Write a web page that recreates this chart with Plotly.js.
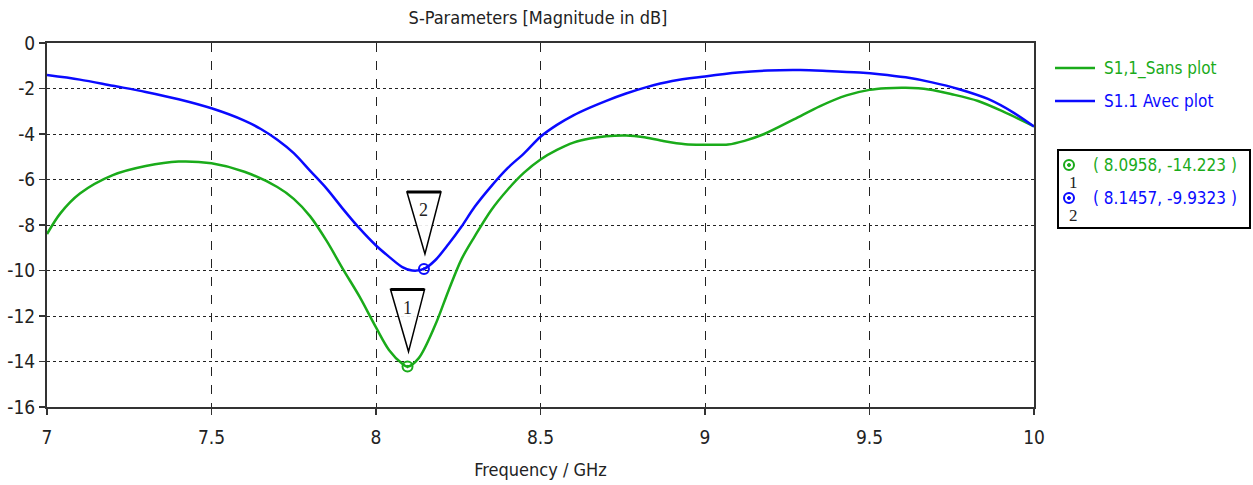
<!DOCTYPE html>
<html>
<head>
<meta charset="utf-8">
<script src="https://cdn.plot.ly/plotly-3.0.1.min.js"></script>
<style>html,body{margin:0;padding:0;background:#fff;}#chart{width:1253px;height:485px;}</style>
</head>
<body>
<div id="chart"></div>
<script>
// Data
const freqSans = [7.0,7.04,7.1,7.2,7.3,7.4,7.5,7.6,7.7,7.75,7.8,7.85,7.9,7.95,8.0,8.04,8.08,8.0958,8.13,8.18,8.22,8.26,8.3,8.35,8.4,8.45,8.5,8.55,8.6,8.65,8.7,8.76,8.81,8.87,8.94,9.0,9.07,9.12,9.18,9.27,9.35,9.43,9.5,9.55,9.61,9.68,9.75,9.83,9.91,10.0];
const s11Sans = [-8.4,-7.5,-6.62,-5.81,-5.41,-5.21,-5.29,-5.66,-6.33,-6.85,-7.62,-8.7,-9.95,-11.15,-12.5,-13.5,-14.1,-14.223,-13.85,-12.4,-10.9,-9.5,-8.5,-7.35,-6.45,-5.7,-5.12,-4.7,-4.38,-4.2,-4.1,-4.07,-4.13,-4.3,-4.45,-4.47,-4.46,-4.3,-4.0,-3.36,-2.77,-2.3,-2.06,-1.99,-1.97,-2.04,-2.25,-2.55,-3.04,-3.66];
const freqAvec = [7.0,7.1,7.2,7.3,7.4,7.5,7.6,7.65,7.7,7.75,7.8,7.85,7.9,7.95,8.0,8.04,8.08,8.11,8.1457,8.18,8.22,8.26,8.3,8.35,8.4,8.45,8.5,8.55,8.6,8.65,8.7,8.76,8.82,8.9,9.0,9.1,9.19,9.29,9.37,9.47,9.53,9.61,9.69,9.77,9.86,9.94,10.0];
const s11Avec = [-1.41,-1.61,-1.88,-2.15,-2.47,-2.87,-3.41,-3.78,-4.25,-4.84,-5.62,-6.4,-7.3,-8.15,-8.9,-9.4,-9.85,-10.0,-9.9323,-9.55,-8.85,-8.07,-7.2,-6.3,-5.5,-4.85,-4.12,-3.6,-3.18,-2.84,-2.54,-2.22,-1.95,-1.67,-1.47,-1.3,-1.21,-1.19,-1.23,-1.3,-1.37,-1.51,-1.73,-2.02,-2.46,-3.08,-3.67];
const seriesNames = ["S1,1_Sans plot", "S1.1 Avec plot"];
const markerIds = ["1", "2"];
const markerX = [8.0958, 8.1457];
const markerY = [-14.223, -9.9323];
const xTicks = [7, 7.5, 8, 8.5, 9, 9.5, 10];
const yTicks = [0, -2, -4, -6, -8, -10, -12, -14, -16];

const GREEN = "#1aab1a", BLUE = "#0a0aff";
const colors = [GREEN, BLUE];
const FONT = "'Liberation Sans Narrow', 'DejaVu Sans Condensed', Arial, sans-serif";
const L = 47, R = 1034, T = 43, B = 407;
const px = v => (v - L) / (R - L);
const py = v => (B - v) / (B - T);

const traces = [
  {x: freqSans, y: s11Sans, mode: "lines", line: {color: GREEN, width: 2.5, shape: "spline", smoothing: 0.9}, showlegend: false, hoverinfo: "skip"},
  {x: freqAvec, y: s11Avec, mode: "lines", line: {color: BLUE, width: 2.5, shape: "spline", smoothing: 0.9}, showlegend: false, hoverinfo: "skip"}
];
markerIds.forEach((id, i) => {
  traces.push({x: [markerX[i]], y: [markerY[i]], mode: "markers",
    marker: {symbol: "circle-open-dot", size: 10, color: colors[i], line: {width: 2, color: colors[i]}},
    showlegend: false, hoverinfo: "skip"});
});

const shapes = [];
const annotations = [];
// Triangle callouts above each marker
markerIds.forEach((id, i) => {
  shapes.push({type: "path", xref: "x", yref: "y", xsizemode: "pixel", ysizemode: "pixel",
    xanchor: markerX[i], yanchor: markerY[i],
    path: "M -17 77 L 17 77 L 1 15 Z", line: {color: "#000", width: 1.5}, fillcolor: "rgba(255,255,255,0.9)"});
  shapes.push({type: "line", xref: "x", yref: "y", xsizemode: "pixel", ysizemode: "pixel",
    xanchor: markerX[i], yanchor: markerY[i], x0: -17, x1: 17, y0: 77, y1: 77,
    line: {color: "#000", width: 3}});
  annotations.push({x: markerX[i], y: markerY[i], xref: "x", yref: "y", text: id, showarrow: false,
    yshift: 59, font: {family: "'Liberation Serif', serif", size: 18, color: "#222"}});
});

// Legend (top right)
const legY = [68, 101];
seriesNames.forEach((n, i) => {
  shapes.push({type: "line", xref: "paper", yref: "paper", x0: px(1055), x1: px(1095), y0: py(legY[i]), y1: py(legY[i]),
    line: {color: colors[i], width: 2.5}});
  annotations.push({xref: "paper", yref: "paper", x: px(1102), y: py(legY[i]), xanchor: "left", yanchor: "middle",
    text: n, showarrow: false, font: {family: FONT, size: 17, color: colors[i]}});
});

// Marker value box
shapes.push({type: "rect", xref: "paper", yref: "paper", x0: px(1058), x1: px(1250),
  y0: py(228), y1: py(150), line: {color: "#000", width: 2}, fillcolor: "rgba(0,0,0,0)"});
const boxY = [165, 198];
markerIds.forEach((id, i) => {
  shapes.push({type: "circle", xref: "paper", yref: "paper", xsizemode: "pixel", ysizemode: "pixel",
    xanchor: px(1069), yanchor: py(boxY[i]), x0: -5, x1: 5, y0: -5, y1: 5,
    line: {color: colors[i], width: 2}, fillcolor: "rgba(0,0,0,0)"});
  shapes.push({type: "circle", xref: "paper", yref: "paper", xsizemode: "pixel", ysizemode: "pixel",
    xanchor: px(1069), yanchor: py(boxY[i]), x0: -1.5, x1: 1.5, y0: -1.5, y1: 1.5,
    line: {color: colors[i], width: 1}, fillcolor: colors[i]});
  annotations.push({xref: "paper", yref: "paper", x: px(1073), y: py(boxY[i] + 17), xanchor: "center", yanchor: "middle",
    text: id, showarrow: false, font: {family: "'Liberation Serif', serif", size: 17, color: "#222"}});
  annotations.push({xref: "paper", yref: "paper", x: px(1091), y: py(boxY[i]), xanchor: "left", yanchor: "middle",
    text: "( " + markerX[i] + ", " + markerY[i] + " )", showarrow: false, font: {family: FONT, size: 17, color: colors[i]}});
});

const layout = {
  width: 1253, height: 485,
  margin: {l: L, r: 1253 - R, t: T, b: 485 - B},
  paper_bgcolor: "#fff", plot_bgcolor: "#fff",
  font: {family: FONT, size: 17, color: "#222"},
  title: {text: "S-Parameters [Magnitude in dB]", x: 538/1253, xanchor: "center", y: 1 - 18/485, yanchor: "middle",
    font: {family: FONT, size: 18, color: "#222"}},
  xaxis: {range: [7, 10], tickvals: xTicks, ticktext: xTicks.map(String), showgrid: true,
    gridcolor: "#222", gridwidth: 1, griddash: "dash", zeroline: false,
    showline: true, mirror: true, linecolor: "#333", linewidth: 2,
    ticks: "outside", ticklen: 6, tickcolor: "#333", tickwidth: 1.5, ticklabelstandoff: 6,
    tickfont: {family: FONT, size: 19, color: "#222"},
    title: {text: "Frequency / GHz", font: {family: FONT, size: 18, color: "#222"}, standoff: 17}},
  yaxis: {range: [-16, 0], tickvals: yTicks, ticktext: yTicks.map(String), showgrid: true,
    gridcolor: "#222", gridwidth: 1, griddash: "dot", zeroline: false,
    showline: true, mirror: true, linecolor: "#333", linewidth: 2,
    ticks: "outside", ticklen: 6, tickcolor: "#333", tickwidth: 1.5,
    tickfont: {family: FONT, size: 19, color: "#222"}},
  shapes: shapes, annotations: annotations, showlegend: false
};
Plotly.newPlot("chart", traces, layout, {staticPlot: true, displayModeBar: false});
</script>
</body>
</html>
